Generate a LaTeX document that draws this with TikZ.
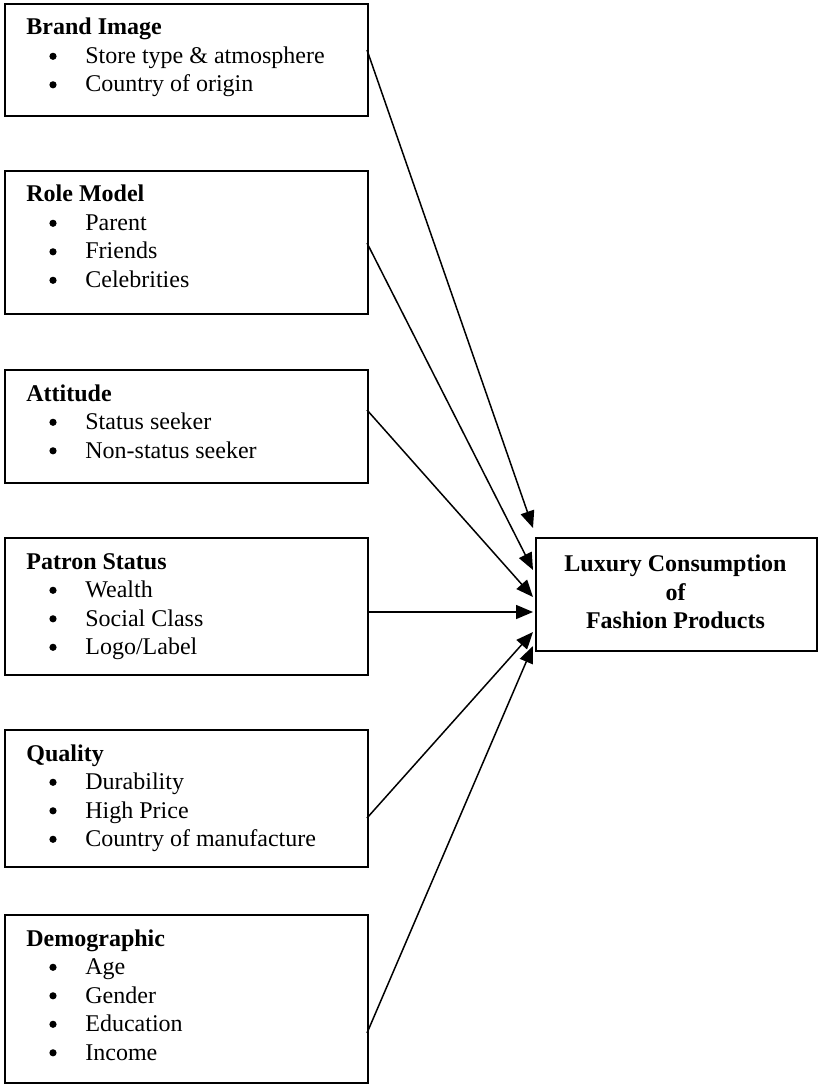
\documentclass[tikz,border=0pt]{standalone}
\usepackage{fontspec}
\setmainfont{Liberation Serif}
\usetikzlibrary{arrows.meta}
\begin{document}
\begin{tikzpicture}[x=0.5pt,y=-0.5pt,
  box/.style={draw, line width=1pt, inner sep=0, anchor=north west, minimum width=181.5pt},
  ttl/.style={anchor=base west, inner sep=0, font=\fontsize{12}{14}\selectfont\bfseries},
  itm/.style={anchor=base west, inner sep=0, font=\fontsize{12}{14}\selectfont},
  bul/.style={circle, fill, inner sep=0, minimum size=3.6pt, yshift=3.6pt},
  res/.style={draw, line width=1pt, inner sep=0, anchor=north west, minimum width=140.5pt, minimum height=56.5pt},
  restext/.style={align=center, inner sep=0, font=\fontsize{12}{14.25}\selectfont\bfseries},
  arr/.style={-{Triangle[length=8.5pt,width=7pt]}, line width=0.75pt}]
\useasboundingbox (0,0) rectangle (820,1085);
% --- Box 1
\node[box, minimum height=56pt] (b1) at (4,3) {};
\node[ttl] (b1t) at (26,35) {Brand Image};
\node[bul] (b1a) at (53,63.5) {};
\node[itm] (b1at) at (85,63.5) {Store type \& atmosphere};
\node[bul] (b1b) at (53,92) {};
\node[itm] (b1bt) at (85,92) {Country of origin};
% --- Box 2
\node[box, minimum height=71.5pt] (b2) at (4,170) {};
\node[ttl] (b2t) at (26,202) {Role Model};
\node[bul] (b2a) at (53,230.5) {};
\node[itm] (b2at) at (85,230.5) {Parent};
\node[bul] (b2b) at (53,259) {};
\node[itm] (b2bt) at (85,259) {Friends};
\node[bul] (b2c) at (53,287.5) {};
\node[itm] (b2ct) at (85,287.5) {Celebrities};
% --- Box 3
\node[box, minimum height=56.5pt] (b3) at (4,369) {};
\node[ttl] (b3t) at (26,401) {Attitude};
\node[bul] (b3a) at (53,429.5) {};
\node[itm] (b3at) at (85,429.5) {Status seeker};
\node[bul] (b3b) at (53,458) {};
\node[itm] (b3bt) at (85,458) {Non-status seeker};
% --- Box 4
\node[box, minimum height=68.5pt] (b4) at (4,537) {};
\node[ttl] (b4t) at (26,569) {Patron Status};
\node[bul] (b4a) at (53,597.5) {};
\node[itm] (b4at) at (85,597.5) {Wealth};
\node[bul] (b4b) at (53,626) {};
\node[itm] (b4bt) at (85,626) {Social Class};
\node[bul] (b4c) at (53,654.5) {};
\node[itm] (b4ct) at (85,654.5) {Logo/Label};
% --- Box 5
\node[box, minimum height=68.5pt] (b5) at (4,729) {};
\node[ttl] (b5t) at (26,761) {Quality};
\node[bul] (b5a) at (53,789.5) {};
\node[itm] (b5at) at (85,789.5) {Durability};
\node[bul] (b5b) at (53,818) {};
\node[itm] (b5bt) at (85,818) {High Price};
\node[bul] (b5c) at (53,846.5) {};
\node[itm] (b5ct) at (85,846.5) {Country of manufacture};
% --- Box 6
\node[box, minimum height=84pt] (b6) at (4,914) {};
\node[ttl] (b6t) at (26,946) {Demographic};
\node[bul] (b6a) at (53,974.5) {};
\node[itm] (b6at) at (85,974.5) {Age};
\node[bul] (b6b) at (53,1003) {};
\node[itm] (b6bt) at (85,1003) {Gender};
\node[bul] (b6c) at (53,1031.5) {};
\node[itm] (b6ct) at (85,1031.5) {Education};
\node[bul] (b6d) at (53,1060) {};
\node[itm] (b6dt) at (85,1060) {Income};
% --- Result box
\node[res] (r) at (535,537) {};
\node[restext] (rt) at (675.5,592) {Luxury Consumption\\of\\Fashion Products};
% --- Connector end points
\coordinate (s1) at (367,50);
\coordinate (s2) at (367,243);
\coordinate (s3) at (367,410);
\coordinate (s4) at (367,612);
\coordinate (s5) at (367,818);
\coordinate (s6) at (367,1033);
\coordinate (t1) at (533,528);
\coordinate (t2) at (533,570);
\coordinate (t3) at (533,597);
\coordinate (t4) at (533,612);
\coordinate (t5) at (533,632);
\coordinate (t6) at (533,646);
\draw[arr] (s1) -- (t1);
\draw[arr] (s2) -- (t2);
\draw[arr] (s3) -- (t3);
\draw[arr] (s4) -- (t4);
\draw[arr] (s5) -- (t5);
\draw[arr] (s6) -- (t6);
\end{tikzpicture}
\end{document}
